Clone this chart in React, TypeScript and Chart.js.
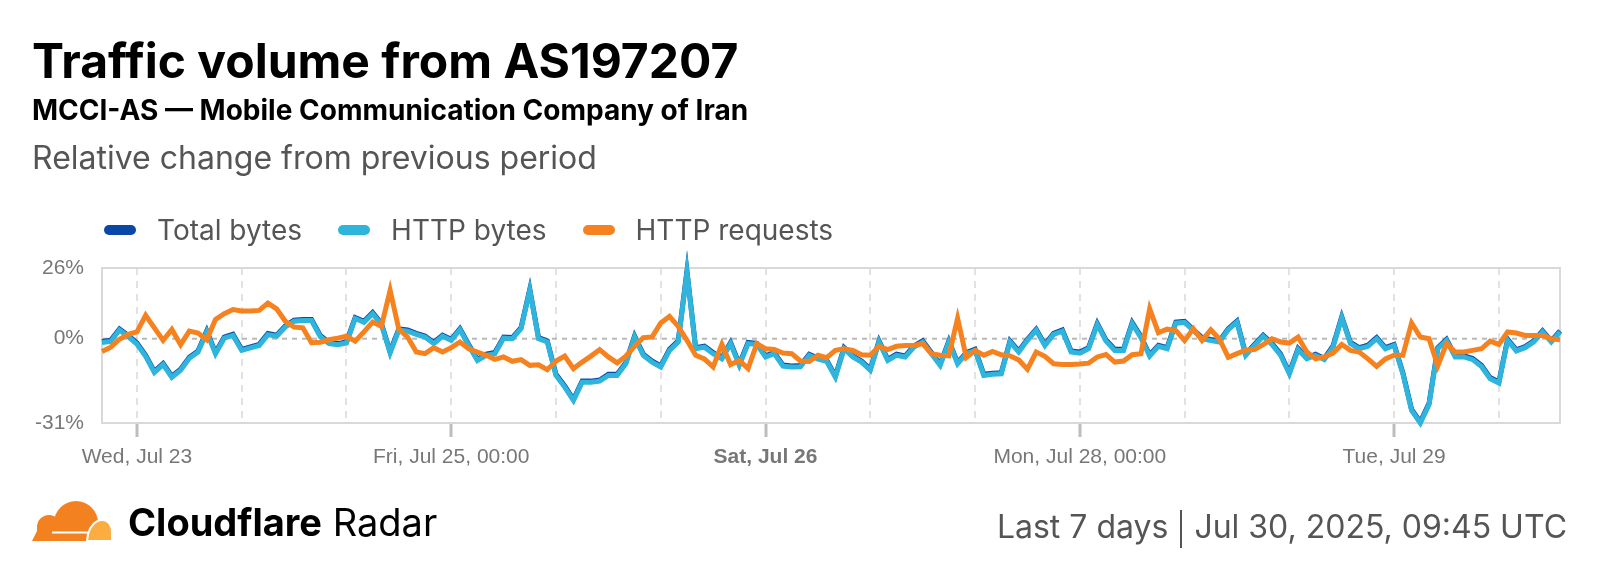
import React, { useEffect, useRef } from "react";
import { Chart, registerables } from "chart.js";

Chart.register(...registerables);

// ---- Data ----
const START_UTC = Date.UTC(2025, 6, 23, 8, 0);
const HOURS = 168;
const hourLabels: string[] = Array.from({ length: HOURS }, (_, i) =>
  new Date(START_UTC + i * 3600000).toISOString().slice(0, 16)
);

const axisLabels: Record<string, string> = {
  "2025-07-23T12:00": "Wed, Jul 23",
  "2025-07-25T00:00": "Fri, Jul 25, 00:00",
  "2025-07-26T12:00": "Sat, Jul 26",
  "2025-07-28T00:00": "Mon, Jul 28, 00:00",
  "2025-07-29T12:00": "Tue, Jul 29",
};
const boldLabels = ["Sat, Jul 26"];
const yTicks = [-31, 0, 26];
const yMin = -31;
const yMax = 26;

const totalBytes = [
  -1.0, -0.6, 3.6, 1.2, -1.6, -6.1, -12.0, -9.1, -13.8, -11.2, -6.8, -4.5, 2.9, -5.1, 0.6, 1.6, -3.9, -3.0, -2.1, 1.9,
  1.3, 4.7, 6.8, 7.1, 7.1, 1.2, -1.4, -1.8, -1.2, 7.8, 6.4, 9.6, 5.6, -4.8, 3.6, 3.2, 2.0, 1.0, -1.4, 1.3,
  -0.2, 3.7, -2.1, -7.6, -5.7, -5.1, 0.6, 0.4, 4.1, 18.2, 0.4, -0.8, -13.1, -17.4, -22.3, -15.6, -15.6, -15.2, -13.1, -13.1,
  -8.8, 1.0, -5.7, -8.2, -10.0, -3.9, -0.8, 24.9, -3.3, -2.7, -5.1, -7.0, -1.4, -9.4, -1.4, -1.7, -6.3, -5.1, -9.7, -10.0,
  -9.9, -5.7, -7.1, -7.9, -13.7, -3.3, -6.3, -8.2, -11.2, -0.8, -7.6, -5.7, -6.3, -2.7, -0.8, -5.1, -9.4, -0.8, -8.8, -5.1,
  -3.9, -13.1, -12.7, -12.5, -0.8, -4.5, -0.2, 3.5, -2.1, 2.0, 3.2, -4.5, -4.9, -3.3, 5.6, -0.5, -3.9, -3.9, 5.9, 0.8,
  -6.0, -2.4, -3.3, 6.1, 6.4, 3.4, 0.4, -0.3, -0.8, 3.7, 6.5, -5.7, -2.1, 1.3, -1.7, -5.7, -12.5, -3.6, -7.0, -5.7,
  -7.3, -2.7, 8.1, -1.4, -3.3, -2.4, 0.4, -3.3, -2.1, -12.5, -26.0, -30.6, -23.8, -3.3, -0.2, -6.3, -6.3, -7.3, -9.8, -14.3,
  -15.9, -0.2, -4.1, -2.9, -0.8, 2.9, -0.8, 2.9,
];

const httpBytes = [
  -1.4, -1.0, 3.2, 0.8, -2.0, -6.5, -12.4, -9.5, -14.2, -11.6, -7.2, -4.9, 2.5, -5.5, 0.2, 1.2, -4.3, -3.4, -2.5, 1.5,
  0.9, 4.3, 6.4, 6.7, 6.7, 0.8, -1.8, -2.2, -1.6, 7.4, 6.0, 9.2, 5.2, -5.2, 3.2, 2.8, 1.6, 0.6, -1.8, 0.9,
  -0.6, 3.3, -2.5, -8.0, -6.1, -5.5, 0.2, 0.0, 3.7, 17.8, 0.0, -1.2, -13.5, -17.8, -22.7, -16.0, -16.0, -15.6, -13.5, -13.5,
  -9.2, 0.6, -6.1, -8.6, -10.4, -4.3, -1.2, 24.5, -3.7, -3.1, -5.5, -7.4, -1.8, -9.8, -1.8, -2.1, -6.7, -5.5, -10.1, -10.4,
  -10.3, -6.1, -7.5, -8.3, -14.1, -3.7, -6.7, -8.6, -11.6, -1.2, -8.0, -6.1, -6.7, -3.1, -1.2, -5.5, -9.8, -1.2, -9.2, -5.5,
  -4.3, -13.5, -13.1, -12.9, -1.2, -4.9, -0.6, 3.1, -2.5, 1.6, 2.8, -4.9, -5.3, -3.7, 5.2, -0.9, -4.3, -4.3, 5.5, 0.4,
  -6.4, -2.8, -3.7, 5.7, 6.0, 3.0, 0.0, -0.7, -1.2, 3.3, 6.1, -6.1, -2.5, 0.9, -2.1, -6.1, -12.9, -4.0, -7.4, -6.1,
  -7.7, -3.1, 7.7, -1.8, -3.7, -2.8, 0.0, -3.7, -2.5, -12.9, -26.4, -31.0, -24.2, -3.7, -0.6, -6.7, -6.7, -7.7, -10.2, -14.7,
  -16.3, -0.6, -4.5, -3.3, -1.2, 2.5, -1.2, 2.5,
];

const httpRequests = [
  -4.7, -3.1, -0.2, 1.6, 2.5, 8.6, 4.0, -0.6, 3.4, -2.2, 2.8, 2.1, -0.4, 7.1, 9.2, 10.7, 10.2, 10.2, 10.4, 13.1,
  11.0, 6.4, 4.3, 4.0, -1.5, -1.3, -0.4, 0.2, 0.9, -0.9, 2.5, 6.1, 4.5, 17.8, 3.5, 0.6, -4.9, -5.5, -3.3, -4.9,
  -3.3, -1.2, -3.7, -4.9, -6.1, -7.6, -6.7, -8.3, -7.7, -9.8, -9.6, -11.4, -8.2, -6.4, -11.0, -8.6, -6.4, -4.0, -6.7, -8.9,
  -6.4, -2.8, 0.4, 0.6, 5.8, 8.2, 4.5, -0.6, -6.1, -7.4, -10.4, -2.1, -9.5, -8.0, -11.0, -1.8, -3.7, -4.0, -5.3, -5.5,
  -8.2, -8.4, -6.1, -7.0, -4.3, -3.7, -4.3, -5.9, -6.1, -2.8, -4.0, -2.8, -2.5, -2.5, -1.8, -5.5, -6.1, -6.3, 7.5, -6.9,
  -4.3, -6.1, -4.7, -5.9, -6.3, -7.8, -11.2, -4.9, -6.5, -9.2, -9.5, -9.5, -9.3, -9.0, -6.7, -5.8, -8.6, -8.2, -5.9, -5.5,
  11.0, 2.2, 3.5, 3.0, -0.7, 3.7, -0.6, 3.3, -0.2, -6.8, -5.5, -4.2, -4.0, -2.2, 0.0, -1.2, -1.6, 0.6, -4.9, -7.4,
  -6.7, -5.3, -2.1, -4.3, -4.9, -7.4, -10.2, -7.4, -6.1, -6.1, 5.8, 0.6, 0.0, -10.0, -1.8, -4.9, -4.9, -4.3, -3.7, -0.9,
  -2.1, 2.5, 2.1, 1.2, 1.2, 1.2, 0.0, -0.4,
];

const seriesNames = ["Total bytes", "HTTP bytes", "HTTP requests"];
const seriesColors = ["#0a48a8", "#2fb4dc", "#f6821f"];

const TICK_FONT = "'Liberation Sans', Arial, sans-serif";

const framePlugin = {
  id: "frame",
  beforeDatasetsDraw(chart: any) {
    const { ctx, chartArea: a, scales } = chart;
    const y0 = scales.y.getPixelForValue(0);
    ctx.save();
    ctx.strokeStyle = "#b8b8b8";
    ctx.lineWidth = 2;
    ctx.setLineDash([5, 5]);
    ctx.beginPath();
    ctx.moveTo(a.left, y0);
    ctx.lineTo(a.right, y0);
    ctx.stroke();
    ctx.setLineDash([]);
    ctx.strokeStyle = "#d9d9d9";
    ctx.lineWidth = 2;
    ctx.strokeRect(a.left, a.top, a.right - a.left, a.bottom - a.top);
    ctx.restore();
  },
};

function Cloud() {
  return (
    <svg width={80} height={40} viewBox="0 0 80 40" style={{ position: "absolute", left: 32, top: 501 }}>
      <g fill="#f48120">
        <circle cx={17} cy={26} r={12} />
        <circle cx={44} cy={22} r={22} />
        <rect x={5} y={25} width={58} height={15} />
        <polygon points="0,40 5,30 14,27 14,40" />
      </g>
      <path d="M55,40 L56,33 C58,25 64,19 70,19 C76,19 80,24 80,31 L80,40 Z" fill="#fbad41" stroke="#ffffff" strokeWidth={2} />
      <line x1={20} y1={31.5} x2={57} y2={31.5} stroke="#ffffff" strokeWidth={1.8} />
    </svg>
  );
}

export default function App() {
  const ref = useRef<HTMLCanvasElement>(null);

  useEffect(() => {
    if (!ref.current) return;
    const isGrid = (v: number) => {
      const h = hourLabels[v].slice(11, 13);
      return h === "00" || h === "12";
    };
    const chart = new Chart(ref.current, {
      type: "line",
      data: {
        labels: hourLabels,
        datasets: [
          { label: seriesNames[2], data: httpRequests, borderColor: seriesColors[2], order: 1 },
          { label: seriesNames[1], data: httpBytes, borderColor: seriesColors[1], order: 2 },
          { label: seriesNames[0], data: totalBytes, borderColor: seriesColors[0], order: 3 },
        ].map((d) => ({
          ...d,
          borderWidth: 5,
          pointRadius: 0,
          pointHoverRadius: 0,
          tension: 0,
          fill: false,
          clip: false as any,
          borderJoinStyle: "miter" as const,
        })),
      },
      options: {
        responsive: false,
        animation: false,
        devicePixelRatio: 1,
        events: [],
        layout: { padding: { top: 268, left: 0, right: 40, bottom: 0 } },
        plugins: { legend: { display: false }, tooltip: { enabled: false }, title: { display: false } },
        scales: {
          x: {
            type: "category",
            grid: {
              color: "#e2e2e2",
              lineWidth: 2,
              drawTicks: true,
              tickLength: 14,
              tickWidth: 3,
              tickBorderDash: [],
              tickColor: (c: any) =>
                c.tick && axisLabels[hourLabels[c.tick.value]] ? "#bdbdbd" : "rgba(0,0,0,0)",
            } as any,
            border: { display: false, dash: [7, 6] },
            ticks: {
              autoSkip: false,
              maxRotation: 0,
              minRotation: 0,
              padding: 8,
              color: "#777777",
              font: (c: any) => {
                const lab = c.tick ? axisLabels[hourLabels[c.tick.value]] : "";
                return { family: TICK_FONT, size: 21, weight: boldLabels.includes(lab) ? "bold" : "normal" } as any;
              },
              callback: (v: any) => axisLabels[hourLabels[v as number]] || "",
            },
            afterBuildTicks: (s: any) => {
              s.ticks = s.ticks.filter((t: any) => isGrid(t.value));
            },
            afterFit: (s: any) => {
              s.height = 151;
            },
          },
          y: {
            min: yMin,
            max: yMax,
            grid: { display: false, drawTicks: false },
            border: { display: false },
            ticks: {
              padding: 18,
              color: "#777777",
              font: { family: TICK_FONT, size: 21 },
              callback: (v: any) => `${v}%`,
            },
            afterBuildTicks: (s: any) => {
              s.ticks = yTicks.map((v) => ({ value: v }));
            },
            afterFit: (s: any) => {
              s.width = 102;
            },
          },
        },
      },
      plugins: [framePlugin],
    });
    return () => chart.destroy();
  }, []);

  const legendItems = seriesNames.map((n, i) => (
    <div key={n} style={{ display: "flex", alignItems: "center", marginRight: 36 }}>
      <div style={{ width: 32, height: 10, borderRadius: 5, background: seriesColors[i], marginRight: 21 }} />
      <span>{n}</span>
    </div>
  ));

  return (
    <div
      style={{
        position: "absolute",
        left: 0,
        top: 0,
        width: 1600,
        height: 574,
        background: "#ffffff",
        overflow: "hidden",
        fontFamily: "Inter, 'Noto Sans', sans-serif",
      }}
    >
      <canvas ref={ref} width={1600} height={574} style={{ position: "absolute", left: 0, top: 0, width: 1600, height: 574 }} />
      <div style={{ position: "absolute", left: 32, top: 37, fontSize: 48, fontWeight: 700, lineHeight: 1, color: "#000", whiteSpace: "nowrap" }}>
        Traffic volume from AS197207
      </div>
      <div style={{ position: "absolute", left: 32, top: 96, fontSize: 28, fontWeight: 700, lineHeight: 1, color: "#000", whiteSpace: "nowrap" }}>
        MCCI-AS — Mobile Communication Company of Iran
      </div>
      <div style={{ position: "absolute", left: 32, top: 142, fontSize: 32, fontWeight: 400, lineHeight: 1, color: "#555", whiteSpace: "nowrap" }}>
        Relative change from previous period
      </div>
      <div
        style={{
          position: "absolute",
          left: 104,
          top: 216,
          height: 28,
          display: "flex",
          alignItems: "center",
          fontSize: 28,
          lineHeight: 1,
          color: "#555",
          whiteSpace: "nowrap",
        }}
      >
        {legendItems}
      </div>
      <Cloud />
      <div style={{ position: "absolute", left: 128, top: 503, fontSize: 38, lineHeight: 1, color: "#000", whiteSpace: "nowrap" }}>
        <span style={{ fontWeight: 700 }}>Cloudflare</span> Radar
      </div>
      <div
        style={{
          position: "absolute",
          right: 33,
          top: 508,
          fontSize: 32,
          lineHeight: 1,
          color: "#555",
          whiteSpace: "nowrap",
          display: "flex",
          alignItems: "center",
        }}
      >
        <span>Last 7 days</span>
        <span style={{ display: "inline-block", width: 2, height: 38, background: "#555", margin: "0 12px", position: "relative", top: 2 }} />
        <span>Jul 30, 2025, 09:45 UTC</span>
      </div>
    </div>
  );
}
